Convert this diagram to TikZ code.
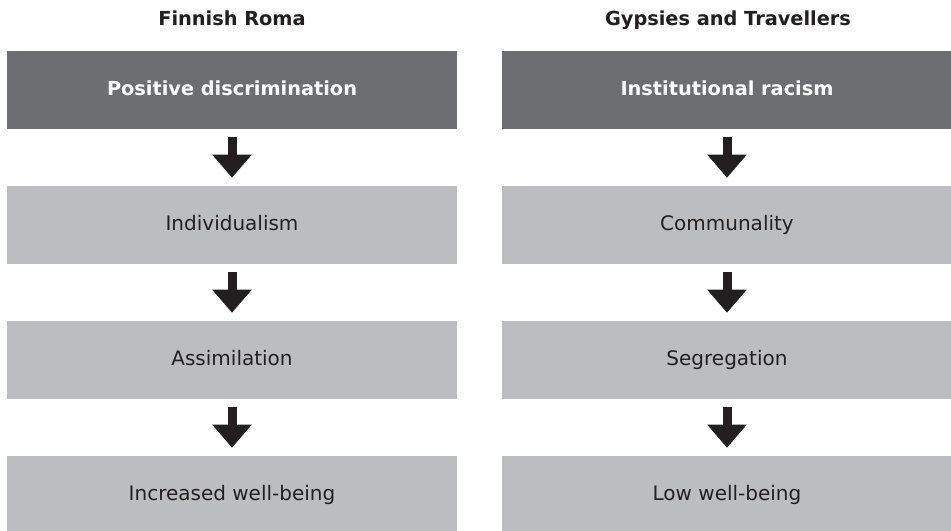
\documentclass[tikz,border=0pt]{standalone}
\usepackage{fontspec}
\setmainfont{DejaVu Sans}
\usepackage{tikz}
\usetikzlibrary{arrows.meta,positioning}
\usepackage{xcolor}
\definecolor{darkgrey}{RGB}{109,110,113}
\definecolor{lightgrey}{RGB}{188,189,192}
\definecolor{inkblack}{RGB}{35,31,32}
\tikzset{
    stagebox/.style={
        rectangle,
        minimum width=337.5pt,
        minimum height=58.5pt,
        inner sep=0pt,
        text height=11pt,
        text depth=3pt,
        text centered,
        font=\fontsize{15}{18}\selectfont
    },
    causebox/.style={
        stagebox,
        fill=darkgrey,
        text=white,
        font=\fontsize{14.5}{18}\selectfont\bfseries
    },
    effectbox/.style={
        stagebox,
        fill=lightgrey,
        text=inkblack
    },
    grouptitle/.style={
        text=inkblack,
        text height=11pt,
        text depth=3pt,
        font=\fontsize{14.5}{18}\selectfont\bfseries
    },
    flow/.style={
        -{Triangle[width=28.5pt,length=17.25pt]},
        line width=6.75pt,
        draw=inkblack,
        fill=inkblack,
        shorten <=6pt,
        shorten >=6pt
    }
}
\begin{document}
\begin{tikzpicture}[x=0.75pt,y=-0.75pt]
    \useasboundingbox (0,0) rectangle (951,531);

    % Finnish Roma
    \node[grouptitle] (fr_title) at (232,20) {Finnish Roma};
    \node[causebox] (fr_pos) at (232,90) {Positive discrimination};
    \node[effectbox] (fr_ind) at (232,225) {Individualism};
    \node[effectbox] (fr_ass) at (232,360) {Assimilation};
    \node[effectbox] (fr_well) at (232,495) {Increased well-being};
    \draw[flow] (fr_pos) -- (fr_ind);
    \draw[flow] (fr_ind) -- (fr_ass);
    \draw[flow] (fr_ass) -- (fr_well);

    % Gypsies and Travellers
    \node[grouptitle] (gt_title) at (728,20) {Gypsies and Travellers};
    \node[causebox] (gt_inst) at (727,90) {Institutional racism};
    \node[effectbox] (gt_com) at (727,225) {Communality};
    \node[effectbox] (gt_seg) at (727,360) {Segregation};
    \node[effectbox] (gt_well) at (727,495) {Low well-being};
    \draw[flow] (gt_inst) -- (gt_com);
    \draw[flow] (gt_com) -- (gt_seg);
    \draw[flow] (gt_seg) -- (gt_well);
\end{tikzpicture}
\end{document}
